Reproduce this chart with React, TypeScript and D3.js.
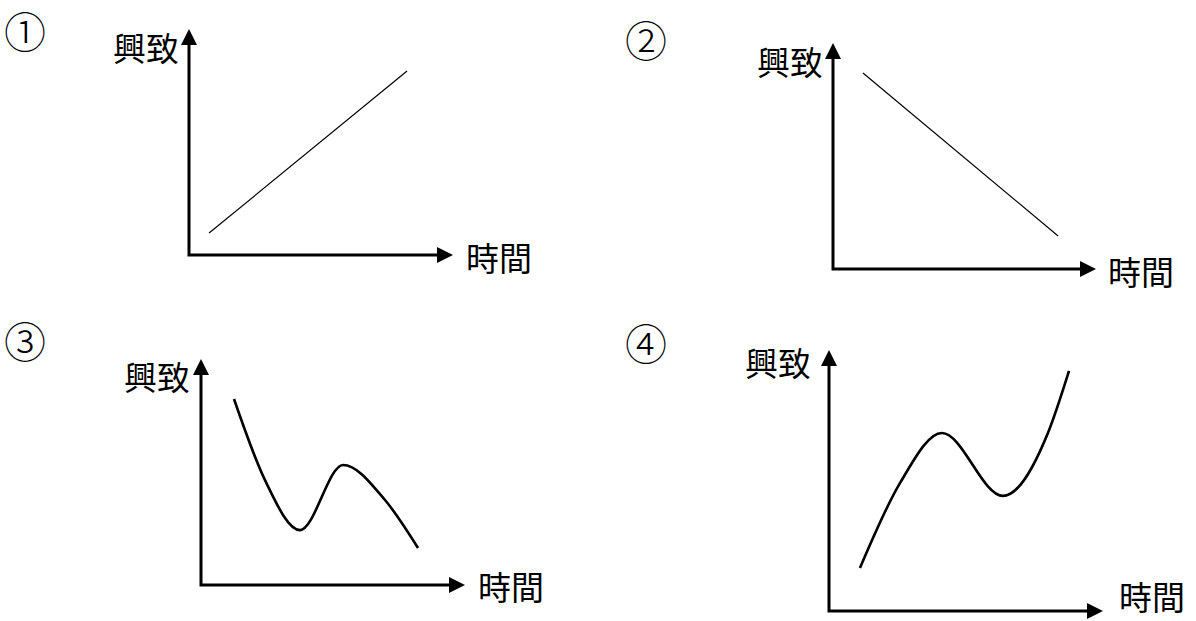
import { useEffect, useRef } from "react";
import * as d3 from "d3";

// labels
const panelMarks = ["①", "②", "③", "④"];
const yTitle = "興致";
const xTitle = "時間";

// series values (time, interest), both on a 0..10 scale along each axis
const time1 = [0.76, 8.26];
const interest1 = [0.97, 8.14];

const time2 = [1.14, 8.56];
const interest2 = [8.67, 1.46];

const time3 = [1.25, 2.42, 3.75, 5.38, 6.97, 8.22];
const interest3 = [8.23, 4.65, 2.43, 5.31, 3.76, 1.64];

const time4 = [1.13, 2.59, 4.12, 6.35, 7.99, 8.76];
const interest4 = [1.65, 4.9, 6.82, 4.41, 6.82, 9.2];

const seriesTime = [time1, time2, time3, time4];
const seriesInterest = [interest1, interest2, interest3, interest4];

export default function App() {
  const ref = useRef<HTMLDivElement>(null);

  useEffect(() => {
    if (!ref.current) return;
    const W = 1196;
    const H = 621;
    const font = "'Noto Sans CJK TC', 'Noto Sans CJK JP', sans-serif";

    // frame of each small chart: axis origin, axis lengths, label spots
    const frames = [
      { ox: 189, oy: 255, w: 264, h: 226, mark: [25, 29], yl: [179, 47], xl: [466, 257], curve: false, sw: 1.2 },
      { ox: 833, oy: 269, w: 263, h: 226, mark: [646, 38], yl: [823, 61], xl: [1108, 271], curve: false, sw: 1.2 },
      { ox: 201, oy: 585, w: 264, h: 226, mark: [25, 339], yl: [190, 376], xl: [478, 586], curve: true, sw: 2.6 },
      { ox: 829, oy: 611, w: 274, h: 261, mark: [646, 341], yl: [811, 362], xl: [1119, 596], curve: true, sw: 2.6 },
    ];

    const svg = d3
      .select(ref.current)
      .html("")
      .append("svg")
      .attr("width", W)
      .attr("height", H)
      .style("position", "absolute")
      .style("left", 0)
      .style("top", 0)
      .style("background", "#fff");

    frames.forEach((f, i) => {
      const g = svg.append("g");

      const x = d3.scaleLinear().domain([0, 10]).range([f.ox, f.ox + f.w]);
      const y = d3.scaleLinear().domain([0, 10]).range([f.oy, f.oy - f.h]);

      const arrow = 16;

      // axes
      g.append("path")
        .attr("d", `M${x(0)},${y(10) + arrow - 2}V${y(0)}H${x(10) - arrow + 2}`)
        .attr("fill", "none")
        .attr("stroke", "#000")
        .attr("stroke-width", 3)
        .attr("stroke-linejoin", "miter")
        .attr("stroke-linecap", "square");

      // arrow heads
      g.append("path")
        .attr("d", `M${x(0)},${y(10)}l${arrow / 2},${arrow}h${-arrow}Z`)
        .attr("fill", "#000");
      g.append("path")
        .attr("d", `M${x(10)},${y(0)}l${-arrow},${-arrow / 2}v${arrow}Z`)
        .attr("fill", "#000");

      // data line
      const pts = seriesTime[i].map((t, k) => [t, seriesInterest[i][k]] as [number, number]);
      const line = d3
        .line<[number, number]>()
        .x((d) => x(d[0]))
        .y((d) => y(d[1]))
        .curve(f.curve ? d3.curveMonotoneX : d3.curveLinear);

      g.append("path")
        .datum(pts)
        .attr("fill", "none")
        .attr("stroke", "#000")
        .attr("stroke-width", f.sw)
        .attr("stroke-linecap", "butt")
        .attr("d", line);

      // labels
      g.append("text")
        .attr("x", f.yl[0])
        .attr("y", f.yl[1])
        .attr("text-anchor", "end")
        .attr("dominant-baseline", "central")
        .style("font-family", font)
        .style("font-size", "33px")
        .text(yTitle);

      g.append("text")
        .attr("x", f.xl[0])
        .attr("y", f.xl[1])
        .attr("text-anchor", "start")
        .attr("dominant-baseline", "central")
        .style("font-family", font)
        .style("font-size", "33px")
        .text(xTitle);

      g.append("text")
        .attr("x", f.mark[0])
        .attr("y", f.mark[1])
        .attr("text-anchor", "middle")
        .attr("dominant-baseline", "central")
        .style("font-family", font)
        .style("font-size", "42px")
        .style("font-weight", 300)
        .text(panelMarks[i]);
    });
  }, []);

  return <div ref={ref}></div>;
}
